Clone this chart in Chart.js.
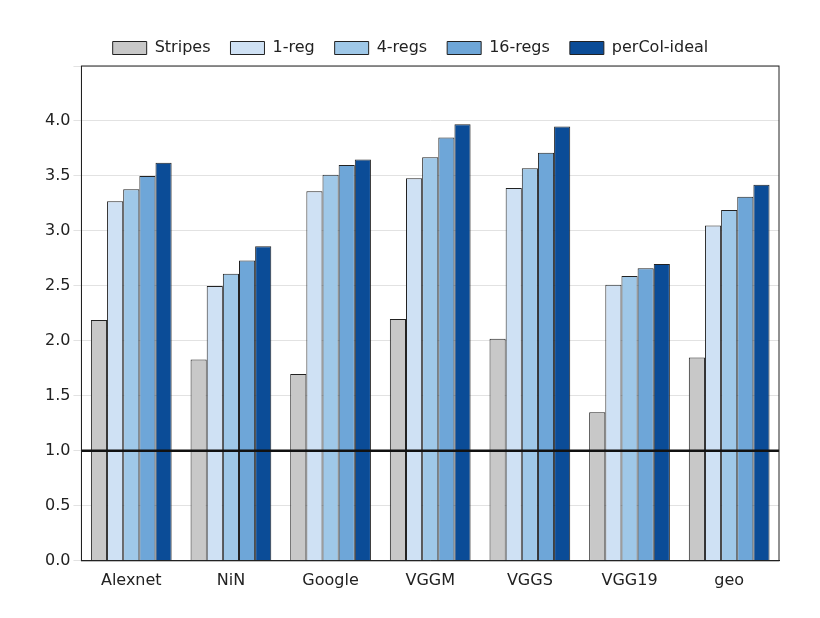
<!DOCTYPE html>
<html><head><meta charset="utf-8">
<script src="https://cdn.jsdelivr.net/npm/chart.js@4"></script>
<style>body{margin:0;background:#fff}#wrap{width:820px;height:618px}</style>
</head><body><div id="wrap"><canvas id="c"></canvas></div>
<script>
const categories = ['Alexnet', 'NiN', 'Google', 'VGGM', 'VGGS', 'VGG19', 'geo'];
const stripes = [2.19, 1.83, 1.70, 2.20, 2.02, 1.35, 1.85];
const reg1 = [3.27, 2.50, 3.36, 3.48, 3.39, 2.51, 3.05];
const regs4 = [3.38, 2.61, 3.51, 3.67, 3.57, 2.59, 3.19];
const regs16 = [3.50, 2.73, 3.60, 3.85, 3.71, 2.66, 3.31];
const perColIdeal = [3.62, 2.86, 3.65, 3.97, 3.95, 2.70, 3.42];
const baseline = 1.0;

const mk = (label, data, bg) => ({ label, data, backgroundColor: bg, borderColor: '#222', borderWidth: 1,
  categoryPercentage: 0.81, barPercentage: 1 });

const refLine = {
  id: 'refLine',
  afterDatasetsDraw(chart) {
    const { ctx, chartArea, scales } = chart;
    const y = scales.y.getPixelForValue(baseline);
    ctx.save();
    ctx.strokeStyle = '#111'; ctx.lineWidth = 2.5;
    ctx.beginPath(); ctx.moveTo(chartArea.left, y); ctx.lineTo(chartArea.right, y); ctx.stroke();
    ctx.strokeStyle = '#222'; ctx.lineWidth = 1;
    ctx.strokeRect(chartArea.left, chartArea.top, chartArea.right - chartArea.left, chartArea.bottom - chartArea.top);
    ctx.restore();
  }
};

new Chart(document.getElementById('c'), {
  type: 'bar',
  data: {
    labels: categories,
    datasets: [
      mk('Stripes', stripes, '#c8c8c8'),
      mk('1-reg', reg1, '#cfe1f4'),
      mk('4-regs', regs4, '#9fc8e8'),
      mk('16-regs', regs16, '#6ea6d8'),
      mk('perCol-ideal', perColIdeal, '#0b4c97')
    ]
  },
  options: {
    responsive: true, maintainAspectRatio: false, animation: false,
    layout: { padding: { left: 42, right: 41, top: 20, bottom: 26 } },
    plugins: {
      legend: { position: 'top', labels: { boxWidth: 34, boxHeight: 13, padding: 20,
        font: { family: 'DejaVu Sans', size: 16 }, color: '#222' } },
      tooltip: { enabled: false }
    },
    scales: {
      x: { grid: { display: false }, border: { color: '#222' },
           ticks: { font: { family: 'DejaVu Sans', size: 16 }, color: '#222', padding: 2 } },
      y: { min: 0, max: 4.5, border: { color: '#222' },
           grid: { color: '#e2e2e2' },
           ticks: { stepSize: 0.5, font: { family: 'DejaVu Sans', size: 16 }, color: '#222',
             callback: v => v >= 4.5 ? '' : v.toFixed(1) } }
    }
  },
  plugins: [refLine]
});
</script></body></html>
